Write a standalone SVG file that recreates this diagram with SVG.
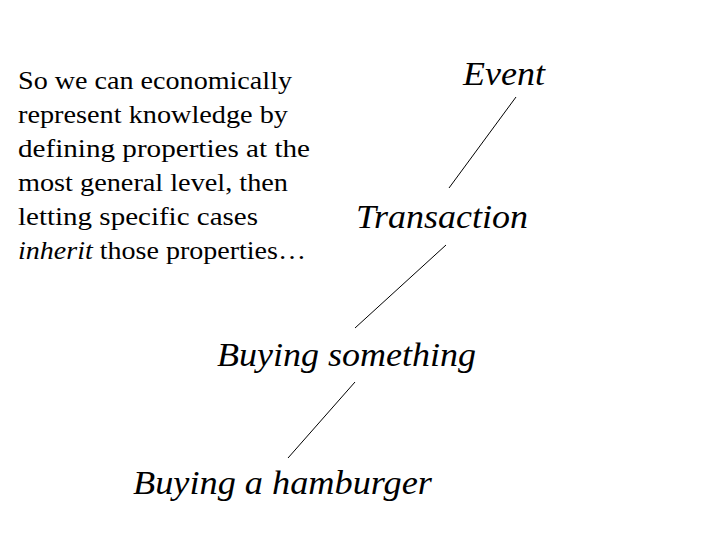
<svg xmlns="http://www.w3.org/2000/svg" width="720" height="540" viewBox="0 0 720 540">
<style>
.b{font-family:"Liberation Serif",serif;font-size:25px;fill:#000}
.n{font-family:"Liberation Serif",serif;font-size:34px;font-style:italic;fill:#000}
line{stroke:#000;stroke-width:1}
</style>
<rect width="720" height="540" fill="#fff"/>
<g id="note"><text class="b" x="18" y="89" textLength="274" lengthAdjust="spacingAndGlyphs">So we can economically</text>
<text class="b" x="18" y="123" textLength="270" lengthAdjust="spacingAndGlyphs">represent knowledge by</text>
<text class="b" x="18" y="157" textLength="292" lengthAdjust="spacingAndGlyphs">defining properties at the</text>
<text class="b" x="18" y="191" textLength="270" lengthAdjust="spacingAndGlyphs">most general level, then</text>
<text class="b" x="18" y="225" textLength="240" lengthAdjust="spacingAndGlyphs">letting specific cases</text>
<text class="b" x="18" y="259" textLength="288" lengthAdjust="spacingAndGlyphs"><tspan font-style="italic">inherit</tspan> those properties…</text></g>
<g id="event"><text class="n" x="463" y="85" textLength="82" lengthAdjust="spacingAndGlyphs">Event</text></g>
<g id="transaction"><text class="n" x="356" y="228" textLength="172" lengthAdjust="spacingAndGlyphs">Transaction</text></g>
<g id="buying"><text class="n" x="217" y="366" textLength="259" lengthAdjust="spacingAndGlyphs">Buying something</text></g>
<g id="hamburger"><text class="n" x="133" y="494" textLength="299" lengthAdjust="spacingAndGlyphs">Buying a hamburger</text></g>
<g id="connectors">
<line x1="516" y1="97" x2="449" y2="188"/>
<line x1="446" y1="245" x2="355" y2="328"/>
<line x1="355" y1="382" x2="288" y2="458"/>
</g>
</svg>
